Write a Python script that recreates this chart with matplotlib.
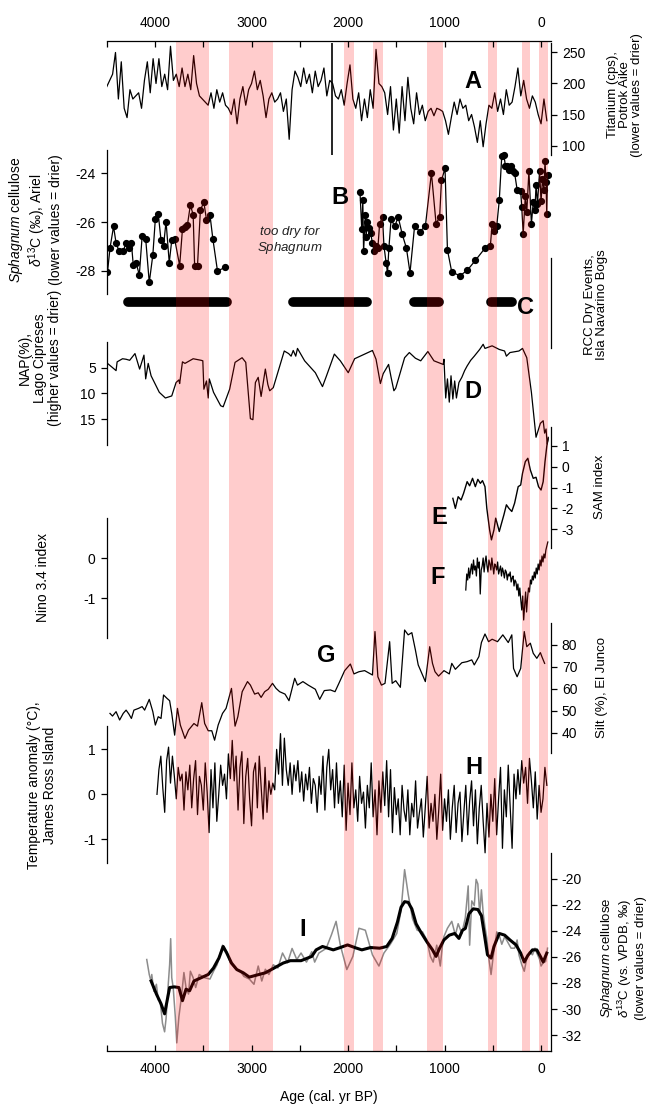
import numpy as np
import matplotlib
matplotlib.use("Agg")
import matplotlib.pyplot as plt

plt.rcParams['font.family'] = ['Liberation Sans', 'DejaVu Sans']
plt.rcParams['mathtext.fontset'] = 'custom'
plt.rcParams['mathtext.rm'] = 'Liberation Sans'
plt.rcParams['mathtext.it'] = 'Liberation Sans:italic'

# dry event bands (cal. yr BP)
bands = [(3780, 3440), (3230, 2780), (2040, 1940), (1740, 1640),
         (1180, 1020), (550, 460), (200, 110), (20, -70)]

# A: Titanium, Potrok Aike (30-yr samples from 4500 BP)
ti_age = list(range(4500, -61, -30))
ti_val = [195, 205, 215, 250, 175, 235, 160, 145, 190, 175,
          180, 185, 160, 205, 235, 185, 240, 200, 240, 195,
          215, 190, 260, 205, 215, 195, 225, 195, 215, 190,
          245, 200, 180, 175, 170, 165, 185, 160, 190, 170,
          185, 165, 160, 150, 175, 135, 175, 195, 165, 190,
          200, 220, 190, 205, 180, 145, 175, 185, 170, 175,
          185, 155, 175, 110, 190, 220, 210, 195, 225, 200,
          215, 185, 220, 195, 205, 225, 180, 205, 200, 180,
          175, 190, 165, 200, 230, 175, 160, 185, 140, 175,
          145, 190, 160, 255, 200, 195, 185, 150, 195, 125,
          175, 120, 195, 140, 210, 160, 135, 185, 150, 165,
          140, 155, 160, 148, 160, 158, 155, 140, 118, 145,
          170, 150, 175, 160, 165, 140, 150, 130, 105, 140,
          98, 135, 165, 160, 185, 155, 175, 150, 190, 165,
          170, 195, 225, 180, 205, 175, 160, 180, 170, 150,
          135, 175, 140]
ti_spike_age = 2165
ti_spike = (85, 265)

# B: Sphagnum d13C, Ariel
ar1_age = [4493, 4467, 4430, 4404, 4374, 4330, 4300, 4271, 4245, 4226, 4197, 4163,
           4134, 4097, 4060, 4023, 3997, 3967, 3938, 3912, 3886, 3853, 3827, 3797,
           3745, 3716, 3690, 3664, 3634, 3605, 3590, 3560, 3530, 3494, 3467, 3431,
           3401, 3353, 3272]
ar1_val = [-28.05, -27.07, -26.18, -26.86, -27.18, -27.18, -26.86, -27.07, -26.86, -27.75,
           -27.66, -28.16, -26.59, -26.69, -28.47, -27.35, -25.88, -25.66, -26.75, -26.97,
           -25.98, -27.66, -26.75, -26.69, -27.78, -26.29, -26.21, -26.11, -25.30, -25.71,
           -27.78, -27.78, -25.50, -25.20, -25.91, -25.71, -26.69, -28.00, -27.85]
ar2_age = [1876, 1858, 1847, 1839, 1821, 1813, 1800, 1784, 1766, 1747, 1729, 1710,
           1691, 1673, 1643, 1628, 1606, 1591, 1577, 1554, 1517, 1480, 1440, 1395,
           1358, 1310, 1258, 1199, 1136, 1088, 1051, 1032, 995, 970, 925, 840,
           766, 681, 581, 525, 507, 488, 459, 433, 407, 385, 370, 348,
           333, 311, 288, 274, 248, 211, 200, 185, 163, 148, 126, 100,
           81, 63, 52, 37, 15, 0, -15, -30, -41, -52, -59, -67]
ar2_val = [-24.79, -26.3, -25.12, -27.2, -25.7, -26.6, -26.0, -26.25, -26.45, -26.86, -27.2, -27.0,
           -27.07, -26.07, -25.8, -26.97, -27.66, -28.07, -27.07, -25.88, -26.18, -25.8, -26.48, -27.07,
           -28.07, -26.15, -26.39, -26.18, -24.0, -26.07, -25.8, -24.3, -23.81, -27.14, -28.05, -28.19,
           -27.98, -27.57, -27.07, -26.97, -26.07, -26.35, -26.15, -25.12, -23.29, -23.25, -23.7, -23.73,
           -23.86, -23.7, -23.93, -24.0, -24.68, -24.75, -25.39, -26.48, -24.93, -25.61, -23.93, -26.07,
           -25.2, -25.5, -24.48, -25.25, -23.93, -25.16, -24.25, -24.68, -23.52, -24.38, -25.66, -24.07]

# C: RCC dry events, Isla Navarino bogs
rcc_events = [(4280, 3250), (2570, 1800), (1320, 1060), (520, 300)]

# D: NAP (%), Lago Cipreses
nap_age = [4493, 4448, 4404, 4393, 4337, 4300, 4263, 4208, 4160, 4115, 4097, 4071, 4041,
           3956, 3893, 3827, 3782, 3753, 3745, 3716, 3690, 3605, 3523, 3505, 3494, 3467,
           3449, 3438, 3394, 3320, 3294, 3227, 3171, 3098, 3060, 3012, 2986, 2960, 2931,
           2901, 2857, 2831, 2812, 2775, 2661, 2616, 2590, 2568, 2542, 2524, 2450, 2339,
           2265, 2227, 2142, 2080, 1998, 1932, 1747, 1710, 1665, 1636, 1580, 1554, 1525,
           1506, 1414, 1365, 1302, 1247, 1210, 1173, 1110, 1014, 1006, 988, 970, 951,
           933, 914, 895, 877, 851, 821, 792, 766, 729, 692, 636, 600, 581, 507, 433,
           378, 359, 322, 229, 192, 148, 100, 52, 7, -22, -37, -52, -63, -74]
nap_val = [4.2, 4.9, 5.6, 3.9, 3.3, 3.4, 3.6, 2.3, 5.3, 2.6, 7.2, 4.2, 6.6,
           9.8, 10.9, 10.5, 7.9, 7.4, 8.1, 3.9, 4.2, 3.3, 3.6, 3.7, 9.2, 7.6,
           10.9, 7.2, 9.8, 12.4, 12.6, 9.2, 4.0, 3.1, 4.0, 14.9, 15.1, 7.9, 6.9,
           10.6, 5.3, 8.3, 9.5, 8.9, 1.8, 2.3, 2.8, 1.7, 2.8, 1.3, 3.7, 6.0,
           8.7, 6.8, 2.4, 3.7, 6.0, 3.3, 1.7, 3.4, 8.1, 6.2, 4.4, 6.9, 9.5,
           9.0, 3.1, 2.1, 3.2, 3.7, 2.8, 1.9, 3.7, 4.4, 3.4, 10.9, 7.2, 11.7,
           6.6, 11.1, 7.6, 10.9, 7.9, 6.9, 5.6, 4.7, 3.6, 2.8, 1.5, 0.5, 1.3, 0.8, 1.5,
           1.8, 2.8, 2.1, 1.8, 1.3, 3.1, 9.8, 18.5, 15.8, 15.3, 17.7, 16.9, 19.8, 18.8]

# E: SAM index
sam_age = [914, 888, 859, 829, 803, 766, 740, 710, 681, 655, 629, 607, 581, 562,
           533, 514, 488, 470, 451, 433, 414, 385, 359, 333, 303, 274, 237, 211,
           192, 163, 137, 111, 81, 52, 26, 0, -22, -41, -59, -74]
sam_val = [-1.52, -2.0, -1.44, -1.6, -1.28, -0.72, -0.92, -0.56, -0.96, -0.61, -0.8, -0.67, -0.96, -2.0,
           -3.03, -3.51, -3.03, -2.47, -2.79, -3.11, -2.79, -2.31, -1.83, -2.0, -2.15, -1.75, -0.96, -0.88,
           -0.32, 0.24, 0.4, -0.16, -0.56, -0.51, -0.96, -1.12, -0.72, 0.24, 0.96, 1.4]

# F: Nino 3.4 index (10-yr samples)
nino_age = list(range(780, -71, -10))
nino_val = [-0.8, -0.4, -0.55, -0.25, -0.5, -0.3, -0.15, -0.4, -0.05, -0.3,
            -0.2, -0.45, 0.0, -0.25, -0.1, -0.9, -0.3, -0.2, 0.0, -0.35,
            -0.1, 0.05, -0.2, -0.35, -0.05, -0.15, -0.3, 0.0, -0.2, -0.4,
            -0.15, -0.2, -0.3, -0.1, -0.4, -0.3, -0.2, -0.45, -0.25, -0.35,
            -0.5, -0.3, -0.35, -0.55, -0.4, -0.45, -0.35, -0.6, -0.5, -0.45,
            -0.7, -0.55, -0.6, -0.8, -0.65, -0.95, -0.75, -1.05, -1.3, -0.95,
            -1.55, -1.2, -0.85, -1.35, -1.0, -0.75, -0.85, -0.55, -0.65, -0.45,
            -0.55, -0.35, -0.5, -0.25, -0.4, -0.15, -0.3, -0.05, -0.2, 0.05,
            -0.1, 0.1, 0.0, 0.2, 0.3, 0.4]

# G: Silt (%), El Junco
silt_age = [4467, 4441, 4404, 4367, 4330, 4300, 4271, 4245, 4219, 4171, 4134, 4108, 4060,
            4023, 3997, 3967, 3938, 3912, 3875, 3849, 3827, 3797, 3768, 3738, 3690, 3653,
            3597, 3560, 3516, 3486, 3449, 3412, 3383, 3346, 3301, 3264, 3208, 3171, 3142,
            3097, 3042, 3012, 2968, 2931, 2901, 2864, 2827, 2783, 2746, 2709, 2653, 2612,
            2553, 2524, 2468, 2413, 2339, 2294, 2246, 2183, 2135, 2098, 2035, 1976, 1939,
            1887, 1828, 1747, 1721, 1691, 1654, 1617, 1569, 1543, 1506, 1458, 1414, 1377,
            1339, 1302, 1273, 1199, 1154, 1125, 1099, 1062, 1006, 951, 925, 888, 821, 766,
            718, 692, 644, 618, 581, 544, 507, 451, 396, 340, 303, 285, 248, 211, 174,
            148, 111, 81, 44, 7, -11, -37]
silt_val = [48.8, 47.6, 49.6, 45.8, 48.8, 50.3, 48.5, 46.5, 50.3, 51.1, 51.9, 50.3, 55.2,
            49.6, 43.5, 47.3, 46.5, 57.2, 55.6, 54.6, 48.8, 38.9, 51.1, 43.5, 37.4, 41.2,
            44.2, 43.0, 53.7, 44.2, 40.9, 40.9, 36.6, 43.5, 48.8, 51.1, 60.2, 43.0, 47.3,
            58.7, 63.3, 61.7, 57.6, 58.2, 56.1, 58.7, 59.8, 62.5, 60.2, 58.7, 57.6, 54.6,
            64.8, 61.7, 63.3, 61.7, 59.8, 55.2, 59.2, 59.5, 58.7, 62.2, 68.3, 71.3, 66.8,
            67.8, 68.3, 66.3, 86.1, 65.5, 61.7, 62.5, 81.5, 62.5, 63.7, 60.7, 86.8, 84.6,
            85.6, 77.7, 70.9, 63.3, 79.2, 71.6, 67.8, 65.8, 68.3, 66.8, 71.6, 68.9, 71.9, 72.4,
            73.2, 70.9, 74.7, 81.1, 85.0, 81.5, 82.6, 81.5, 84.6, 81.1, 84.6, 69.3, 65.5, 69.3, 86.1,
            79.2, 80.8, 76.2, 73.9, 76.5, 74.4, 71.6]

# H: temperature anomaly, James Ross Island (20-yr samples)
jri_age = list(range(3980, -61, -20))
jri_val = [0.0, 0.55, 0.85, 0.15, -0.4, 0.75, 1.05, 0.25, 0.85, 0.4,
           -0.1, 0.6, 0.3, 0.45, -0.35, 0.5, 0.1, 0.65, -0.3, 0.35,
           0.75, -0.45, 0.4, 0.2, -0.35, 0.7, 0.05, -0.85, 0.55, -0.3,
           0.7, -0.6, 0.0, 0.65, 0.2, 0.45, -0.1, 0.9, 0.35, 1.2,
           0.3, 0.85, -0.35, 0.6, 0.95, -0.65, 0.4, 0.8, -0.1, -0.7,
           0.5, 0.7, -0.3, 0.85, 0.15, -0.55, 0.6, -0.4, 0.3, 0.0,
           0.25, 0.1, 1.0, 0.45, 1.35, 0.2, 1.25, 0.55, 0.2, 0.7,
           0.0, 0.65, 0.3, 0.75, 0.05, 0.5, -0.15, 0.45, 0.1, 0.6,
           -0.2, 0.35, 0.2, -0.4, 0.4, 0.0, 0.85, -0.35, 0.6, 1.0,
           0.1, 0.55, -0.3, 0.7, -0.2, 0.3, -0.5, 0.65, -0.8, 0.25,
           -0.45, 0.7, -0.3, 0.1, -0.6, 0.4, -0.2, 0.05, -0.75, 0.2,
           -0.3, 0.7, -0.5, 0.1, -0.9, 0.3, -0.4, 0.5, -0.25, 0.75,
           -0.5, 0.55, -0.85, 0.15, -0.45, -0.1, -0.9, 0.2, -0.35, -0.6,
           0.1, -0.9, -0.2, -0.5, 0.3, -0.75, -0.4, -0.1, -0.95, -0.3,
           0.4, -0.75, -0.2, -0.6, 0.0, -1.0, -0.35, 0.45, -0.8, -0.1,
           -0.6, 0.1, -1.0, -0.3, 0.2, -0.85, -0.2, 0.05, -1.05, -0.4,
           0.2, -0.9, -0.15, 0.3, -0.7, 0.1, -1.1, -0.3, 0.2, -0.6,
           -1.3, -0.2, -0.95, 0.0, -0.6, 0.35, -0.9, -0.1, 0.6, -1.2,
           0.1, -0.5, 0.65, -0.3, -1.2, 0.45, -0.1, 0.55, 0.0, 0.75,
           0.25, 0.6, -0.2, 0.8, 0.3, -0.3, 0.5, -0.55, 0.2, -0.4,
           -0.1, 0.6, 0.2]

# I: Sphagnum d13C (this study), raw and smoothed
raw_age = [4086, 4060, 4041, 4034, 4012, 3986, 3967, 3949, 3938, 3923, 3901, 3886, 3864,
           3849, 3838, 3827, 3812, 3790, 3775, 3753, 3727, 3701, 3679, 3653, 3634, 3605,
           3579, 3542, 3486, 3431, 3394, 3357, 3301, 3257, 3220, 3171, 3116, 3079, 3023,
           2975, 2931, 2894, 2857, 2820, 2775, 2727, 2679, 2627, 2580, 2531, 2487, 2431,
           2376, 2346, 2302, 2227, 2172, 2124, 2080, 2013, 1950, 1887, 1821, 1747, 1680,
           1628, 1562, 1495, 1451, 1414, 1377, 1332, 1284, 1228, 1184, 1147, 1118, 1081,
           1044, 1025, 1007, 970, 925, 888, 859, 821, 785, 755, 740, 718, 692, 673, 655,
           636, 618, 599, 581, 562, 544, 518, 496, 459, 433, 407, 377, 348, 311, 274,
           248, 229, 200, 174, 148, 118, 89, 63, 44, 15, 0, -22, -48, -67]
raw_val = [-26.2, -27.35, -27.9, -27.35, -28.65, -28.1, -29.3, -29.35, -30.0, -31.1, -31.75, -30.75, -28.2,
           -26.6, -24.6, -27.6, -28.35, -30.6, -32.6, -30.6, -29.1, -27.2, -28.35, -28.85, -27.1, -27.6,
           -28.35, -27.35, -27.6, -27.7, -27.1, -26.6, -25.1, -25.6, -26.45, -26.85, -27.1, -27.5, -27.7,
           -28.1, -26.7, -27.85, -26.95, -27.35, -26.6, -26.85, -25.7, -26.45, -25.35, -26.2, -25.7, -26.4,
           -25.6, -26.4, -25.7, -25.35, -24.3, -23.27, -25.1, -26.97, -25.96, -23.8, -23.95, -25.85, -26.7,
           -25.7, -25.03, -24.2, -22.44, -19.3, -21.18, -23.07, -23.95, -24.08, -24.7, -25.96, -26.4, -25.1,
           -26.7, -25.3, -24.45, -23.8, -23.27, -24.33, -23.45, -24.2, -23.0, -20.55, -25.1, -21.7, -22.06, -20.05, -20.4,
           -22.77, -20.85, -22.7, -23.7, -24.58, -25.96, -27.35, -25.96, -24.08, -24.33, -25.03, -24.45, -24.83, -25.33, -25.33,
           -24.7, -25.84, -26.6, -27.1, -26.1, -25.6, -25.84, -25.33, -25.7, -26.2, -26.7, -26.45, -26.35, -25.33]
smooth_age = [4041, 3986, 3938, 3901, 3875, 3849, 3801, 3753, 3716, 3679, 3642, 3597, 3523,
              3449, 3394, 3338, 3294, 3257, 3208, 3153, 3086, 3023, 2949, 2857, 2775, 2672,
              2598, 2487, 2376, 2331, 2265, 2153, 2080, 2005, 1931, 1857, 1766, 1673, 1599,
              1543, 1488, 1451, 1414, 1377, 1339, 1295, 1247, 1184, 1125, 1088, 1051, 1007,
              951, 895, 851, 814, 785, 747, 703, 655, 618, 581, 555, 518, 488, 433, 377,
              322, 259, 211, 174, 137, 89, 44, 7, -22, -59]
smooth_val = [-27.85, -28.85, -29.6, -30.37, -29.36, -28.35, -28.3, -28.35, -29.36, -28.48, -28.6, -27.85, -27.6,
              -27.35, -26.85, -26.09, -25.2, -25.7, -26.47, -26.97, -27.22, -27.55, -27.4, -27.22, -26.89, -26.47,
              -26.29, -26.29, -25.96, -25.46, -25.2, -25.46, -25.28, -25.08, -25.28, -25.46, -25.28, -25.33, -25.2,
              -24.58, -23.32, -22.19, -21.76, -21.81, -22.31, -23.45, -24.08, -24.83, -25.46, -25.96, -25.33, -24.7,
              -24.33, -24.2, -24.58, -23.95, -23.82, -22.69, -22.31, -22.36, -22.82, -24.58, -25.84, -26.09, -25.2, -24.2, -24.33,
              -24.7, -25.08, -25.71, -26.39, -25.89, -25.46, -25.46, -25.96, -26.39, -25.71]

W, H = 650, 1107
X0, X1 = 106.8, 550.7
XLIM = (4500, -100)

fig = plt.figure(figsize=(W / 100, H / 100), dpi=100)


def panel(y_top, y_bot, side, ylim, ticks):
    ax = fig.add_axes([X0 / W, 1 - y_bot / H, (X1 - X0) / W, (y_bot - y_top) / H])
    ax.set_xlim(*XLIM)
    ax.set_ylim(*ylim)
    ax.patch.set_alpha(0)
    for s in ['top', 'bottom', 'left', 'right']:
        ax.spines[s].set_visible(s == side)
    ax.spines[side].set_linewidth(0.9)
    ax.set_xticks([])
    ax.yaxis.set_ticks_position(side)
    ax.set_yticks(ticks)
    ax.tick_params(axis='y', direction='out', length=4, width=0.9, labelsize=10, pad=4)
    return ax


def ftext(x, y, s, **kw):
    fig.text(x / W, 1 - y / H, s, zorder=30, **kw)


letter = dict(fontsize=17, fontweight='bold', ha='center', va='center')
lab = dict(fontsize=10, ha='center', va='center', rotation=90, linespacing=1.1)
rlab = dict(fontsize=9.5, ha='center', va='center', rotation=90, linespacing=1.05)

# A
axA = panel(43, 155, 'right', (84.7, 265.3), [100, 150, 200, 250])
axA.plot(ti_age, ti_val, color='black', lw=0.9)
axA.vlines(ti_spike_age, *ti_spike, color='black', lw=1.2)
ftext(473, 82, 'A', **letter)
ftext(625, 95, 'Titanium (cps),\nPotrok Aike\n(lower values = drier)', **rlab)

# B
axB = panel(150, 294, 'left', (-28.94, -23.06), [-28, -26, -24])
axB.set_yticklabels(['-28', '-26', '-24'])
for a, v in [(ar1_age, ar1_val), (ar2_age, ar2_val)]:
    axB.plot(a, v, color='black', lw=0.9, marker='o', ms=4.2)
ftext(340, 198, 'B', **letter)
ftext(290, 241, 'too dry for\n$\\it{Sphagnum}$', fontsize=9.5, style='italic',
      ha='center', va='center', linespacing=1.1, color='#222222')
ftext(35, 220, '$\\it{Sphagnum}$ cellulose\n$\\delta^{13}$C (\u2030), Ariel\n(lower values = drier)', **lab)

# C
axC = panel(258, 348, 'right', (0, 1), [])
for a, b in rcc_events:
    axC.plot([a, b], [0.51, 0.51], color='black', lw=7, solid_capstyle='round')
ftext(526, 307, 'C', **letter)
ftext(596, 305, 'RCC Dry Events,\nIsla Navarino Bogs', **rlab)

# D
axD = panel(341.7, 445, 'left', (20, 0), [5, 10, 15])
axD.plot(nap_age, nap_val, color='black', lw=0.9)
ftext(473, 392, 'D', **letter)
ftext(40, 358, 'NAP(%),\nLago Cipreses\n(higher values = drier)', **lab)

# E
axE = panel(427, 548, 'right', (-3.9, 1.9), [-3, -2, -1, 0, 1])
axE.set_yticklabels(['-3', '-2', '-1', '0', '1'])
axE.plot(sam_age, sam_val, color='black', lw=1.0)
ftext(439, 518, 'E', **letter)
ftext(600, 487, 'SAM index', **rlab)

# F
axF = panel(518, 638, 'left', (-2, 1), [-1, 0])
axF.set_yticklabels(['-1', '0'])
axF.plot(nino_age, nino_val, color='black', lw=0.9)
ftext(438, 578, 'F', **letter)
ftext(43, 578, 'Nino 3.4 index', **lab)

# G
axG = panel(623, 752.7, 'right', (30.9, 90), [40, 50, 60, 70, 80])
axG.plot(silt_age, silt_val, color='black', lw=0.9)
ftext(326, 655, 'G', **letter)
ftext(602, 687, 'Silt (%), El Junco', **rlab)

# H
axH = panel(726, 862.7, 'left', (-1.52, 1.52), [-1, 0, 1])
axH.set_yticklabels(['-1', '0', '1'])
axH.plot(jri_age, jri_val, color='black', lw=0.9)
ftext(474, 767, 'H', **letter)
ftext(42, 785, 'Temperature anomaly (\u00b0C),\nJames Ross Island', **lab)

# I
axI = panel(852.7, 1050.7, 'right', (-33.2, -18), [-32, -30, -28, -26, -24, -22, -20])
axI.set_yticklabels(['-32', '-30', '-28', '-26', '-24', '-22', '-20'])
axI.plot(raw_age, raw_val, color='#8c8c8c', lw=1.1)
axI.plot(smooth_age, smooth_val, color='black', lw=2.2)
ftext(303, 930, 'I', **letter)
ftext(623, 958, '$\\it{Sphagnum}$ cellulose\n$\\delta^{13}$C (vs. VPDB, \u2030)\n(lower values = drier)', **rlab)

# base axes: shared age axis (top and bottom) and the dry event bands on top
base = fig.add_axes([X0 / W, 1 - 1050.7 / H, (X1 - X0) / W, (1050.7 - 40.7) / H], zorder=10)
base.patch.set_alpha(0)
base.set_xlim(*XLIM)
base.set_ylim(0, 1)
base.spines['left'].set_visible(False)
base.spines['right'].set_visible(False)
base.spines['top'].set_linewidth(0.9)
base.spines['bottom'].set_linewidth(0.9)
base.set_yticks([])
xt = list(range(4500, -1, -500))
base.set_xticks(xt)
base.set_xticklabels([str(t) if t % 1000 == 0 else '' for t in xt])
base.tick_params(axis='x', top=True, labeltop=True, bottom=True, labelbottom=True,
                 direction='in', length=4, width=0.9, labelsize=10, pad=8)
for a, b in bands:
    base.axvspan(a, b, color='red', alpha=0.2, lw=0)
base.set_xlabel('Age (cal. yr BP)', fontsize=10, labelpad=10)

fig.savefig('out.png', dpi=100)
